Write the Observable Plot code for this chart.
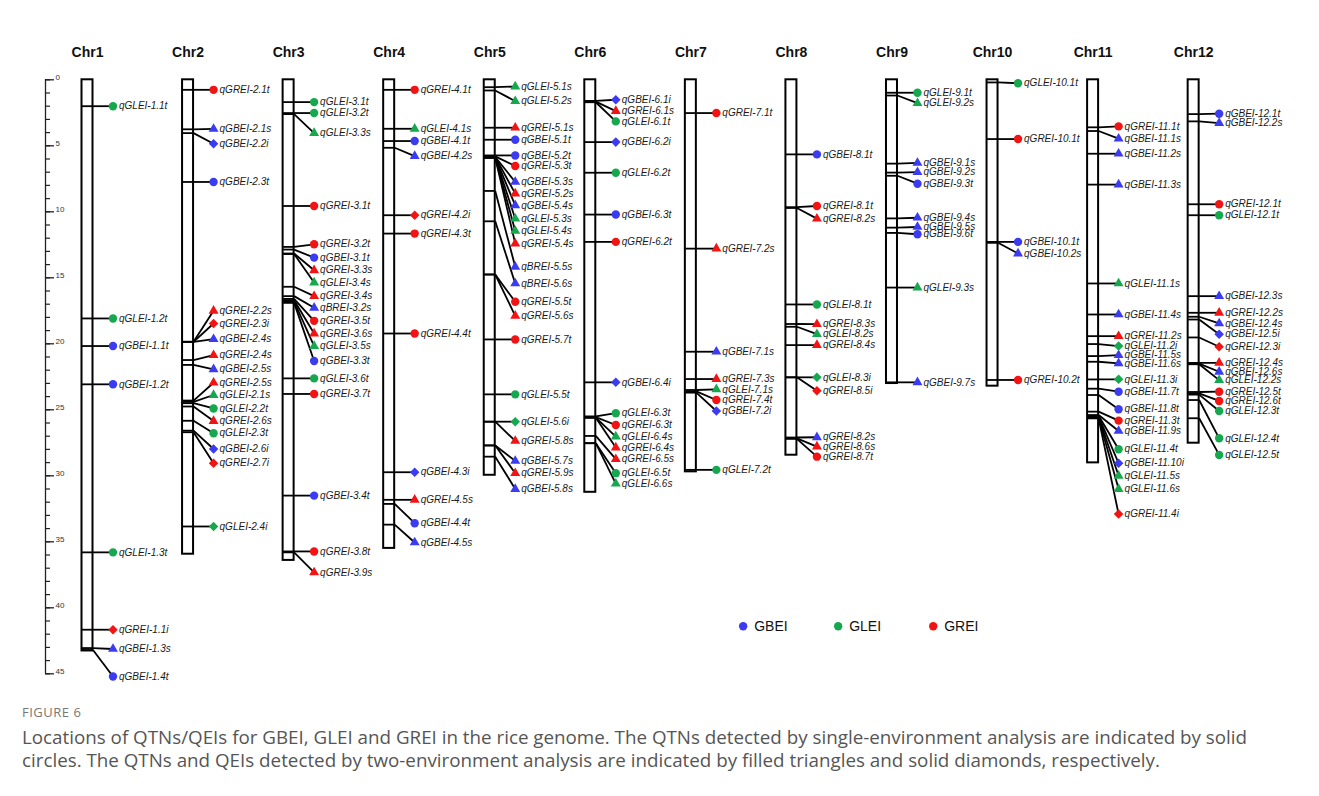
<!DOCTYPE html>
<html><head><meta charset="utf-8">
<script src="https://cdn.jsdelivr.net/npm/d3@7"></script>
<script src="https://cdn.jsdelivr.net/npm/@observablehq/plot@0.6"></script>
<style>
body{margin:0;background:#fff;font-family:"Liberation Sans",Arial,sans-serif;}
#topline{position:absolute;left:0;top:8px;width:1319px;border-top:1px solid #e2e2e2}
#chart{position:absolute;left:0;top:0}
#fig{position:absolute;left:22px;top:703px;font-family:"Open Sans",sans-serif;font-size:13px;color:#777;letter-spacing:0.5px}
#cap{position:absolute;left:22px;top:726px;font-family:"Open Sans",sans-serif;font-size:18.8px;line-height:23px;color:#555;white-space:nowrap}
</style></head><body>
<div id="topline"></div>
<div id="chart"></div>
<div id="fig">FIGURE 6</div>
<div id="cap">Locations of QTNs/QEIs for GBEI, GLEI and GREI in the rice genome. The QTNs detected by single-environment analysis are indicated by solid<br>circles. The QTNs and QEIs detected by two-environment analysis are indicated by filled triangles and solid diamonds, respectively.</div>
<script>
// ---- data ----
const chromosomes = ["Chr1","Chr2","Chr3","Chr4","Chr5","Chr6","Chr7","Chr8","Chr9","Chr10","Chr11","Chr12"];
const chrLengths = [43.27,35.94,36.41,35.50,29.96,31.25,29.70,28.44,23.01,23.21,29.02,27.53];
const traits = ["GBEI","GLEI","GREI"];
const traitColors = ["#3b3bf2","#16a84e","#f21414"];
const axisTicks = [0,5,10,15,20,25,30,35,40,45];

// [label, trait, position on chromosome (Mb), label position (Mb)]
const chr1 = [
 ["qGLEI-1.1t","GLEI",2.0,2.0],["qGLEI-1.2t","GLEI",18.08,18.08],["qGBEI-1.1t","GBEI",20.17,20.17],
 ["qGBEI-1.2t","GBEI",23.07,23.07],["qGLEI-1.3t","GLEI",35.8,35.8],["qGREI-1.1i","GREI",41.66,41.66],
 ["qGBEI-1.3s","GBEI",43.05,43.12],["qGBEI-1.4t","GBEI",43.2,45.2]];
const chr2 = [
 ["qGREI-2.1t","GREI",0.76,0.76],["qGBEI-2.1s","GBEI",3.75,3.72],["qGBEI-2.2i","GBEI",4.04,4.84],
 ["qGBEI-2.3t","GBEI",7.74,7.74],["qGREI-2.2s","GREI",19.85,17.5],["qGREI-2.3i","GREI",19.85,18.46],
 ["qGBEI-2.4s","GBEI",19.85,19.65],["qGREI-2.4s","GREI",21.23,20.86],["qGBEI-2.5s","GBEI",21.6,21.93],
 ["qGREI-2.5s","GREI",24.3,22.95],["qGLEI-2.1s","GLEI",24.4,23.88],["qGLEI-2.2t","GLEI",24.5,24.9],
 ["qGREI-2.6s","GREI",24.75,25.85],["qGLEI-2.3t","GLEI",25.83,26.78],["qGBEI-2.6i","GBEI",26.58,27.97],
 ["qGREI-2.7i","GREI",26.7,29.05],["qGLEI-2.4i","GLEI",33.84,33.84]];
const chr3 = [
 ["qGLEI-3.1t","GLEI",1.69,1.69],["qGLEI-3.2t","GLEI",2.52,2.52],["qGLEI-3.3s","GLEI",2.6,4.04],
 ["qGREI-3.1t","GREI",9.56,9.56],["qGREI-3.2t","GREI",12.66,12.46],["qGBEI-3.1t","GBEI",12.86,13.47],
 ["qGREI-3.3s","GREI",13.16,14.43],["qGLEI-3.4s","GLEI",13.2,15.36],["qGREI-3.4s","GREI",15.68,16.39],
 ["qBREI-3.2s","GBEI",16.39,17.27],["qGREI-3.5t","GREI",16.6,18.26],["qGREI-3.6s","GREI",16.7,19.22],
 ["qGLEI-3.5s","GLEI",16.8,20.17],["qGBEI-3.3t","GBEI",16.9,21.3],["qGLEI-3.6t","GLEI",22.62,22.62],
 ["qGREI-3.7t","GREI",23.8,23.8],["qGBEI-3.4t","GBEI",31.5,31.5],["qGREI-3.8t","GREI",35.73,35.73],
 ["qGREI-3.9s","GREI",35.8,37.32]];
const chr4 = [
 ["qGREI-4.1t","GREI",0.76,0.76],["qGLEI-4.1s","GLEI",3.71,3.71],["qGBEI-4.1t","GBEI",4.64,4.64],
 ["qGBEI-4.2s","GBEI",5.15,5.78],["qGREI-4.2i","GREI",10.26,10.26],["qGREI-4.3t","GREI",11.65,11.65],
 ["qGREI-4.4t","GREI",19.22,19.22],["qGBEI-4.3i","GBEI",29.73,29.73],["qGREI-4.5s","GREI",31.82,31.82],
 ["qGBEI-4.4t","GBEI",32.13,33.59],["qGBEI-4.5s","GBEI",33.7,35.05]];
const chr5 = [
 ["qGLEI-5.1s","GLEI",0.56,0.51],["qGLEI-5.2s","GLEI",0.81,1.62],["qGREI-5.1s","GREI",3.63,3.63],
 ["qGBEI-5.1t","GBEI",4.54,4.54],["qGBEI-5.2t","GBEI",5.73,5.73],["qGREI-5.3t","GREI",5.8,6.53],
 ["qGBEI-5.3s","GBEI",5.85,7.74],["qGREI-5.2s","GREI",5.85,8.62],["qGBEI-5.4s","GBEI",5.9,9.51],
 ["qGLEI-5.3s","GLEI",5.9,10.52],["qGLEI-5.4s","GLEI",5.9,11.45],["qGREI-5.4s","GREI",5.9,12.41],
 ["qBREI-5.5s","GBEI",8.42,14.17],["qBREI-5.6s","GBEI",10.72,15.43],["qGREI-5.5t","GREI",14.75,16.82],
 ["qGREI-5.6s","GREI",14.75,17.88],["qGREI-5.7t","GREI",19.67,19.67],["qGLEI-5.5t","GLEI",23.83,23.83],
 ["qGLEI-5.6i","GLEI",25.9,25.9],["qGREI-5.8s","GREI",25.9,27.36],["qGBEI-5.7s","GBEI",27.7,28.87],
 ["qGREI-5.9s","GREI",27.7,29.8],["qGBEI-5.8s","GBEI",28.55,31.0]];
const chr6 = [
 ["qGBEI-6.1i","GBEI",1.6,1.51],["qGREI-6.1s","GREI",1.65,2.37],["qGLEI-6.1t","GLEI",1.7,3.15],
 ["qGBEI-6.2i","GBEI",4.72,4.72],["qGLEI-6.2t","GLEI",7.04,7.04],["qGBEI-6.3t","GBEI",10.21,10.21],
 ["qGREI-6.2t","GREI",12.28,12.28],["qGBEI-6.4i","GBEI",22.92,22.92],["qGLEI-6.3t","GLEI",25.5,25.26],
 ["qGREI-6.3t","GREI",25.55,26.15],["qGLEI-6.4s","GLEI",25.6,27.03],["qGREI-6.4s","GREI",25.6,27.86],
 ["qGREI-6.5s","GREI",26.98,28.74],["qGLEI-6.5t","GLEI",27.53,29.8],["qGLEI-6.6s","GLEI",27.53,30.6]];
const chr7 = [
 ["qGREI-7.1t","GREI",2.52,2.52],["qGREI-7.2s","GREI",12.79,12.79],["qGBEI-7.1s","GBEI",20.6,20.6],
 ["qGREI-7.3s","GREI",22.67,22.67],["qGLEI-7.1s","GLEI",23.5,23.45],["qGREI-7.4t","GREI",23.6,24.26],
 ["qGBEI-7.2i","GBEI",23.7,25.09],["qGLEI-7.2t","GLEI",29.55,29.55]];
const chr8 = [
 ["qGBEI-8.1t","GBEI",5.65,5.65],["qGREI-8.1t","GREI",9.65,9.56],["qGREI-8.2s","GREI",9.71,10.52],
 ["qGLEI-8.1t","GLEI",17.02,17.02],["qGREI-8.3s","GREI",18.5,18.51],["qGLEI-8.2s","GLEI",18.71,19.27],
 ["qGREI-8.4s","GREI",20.1,20.1],["qGLEI-8.3i","GLEI",22.54,22.54],["qGREI-8.5i","GREI",22.54,23.55],
 ["qGREI-8.2s","GBEI",27.1,27.08],["qGREI-8.6s","GREI",27.16,27.79],["qGREI-8.7t","GREI",27.2,28.55]];
const chr9 = [
 ["qGLEI-9.1t","GLEI",0.98,0.98],["qGLEI-9.2s","GLEI",1.19,1.77],["qGBEI-9.1s","GBEI",6.35,6.3],
 ["qGBEI-9.2s","GBEI",7.03,7.0],["qGBEI-9.3t","GBEI",7.27,7.87],["qGBEI-9.4s","GBEI",10.5,10.45],
 ["qGBEI-9.5s","GBEI",11.2,11.15],["qGBEI-9.6t","GBEI",11.6,11.7],["qGLEI-9.3s","GLEI",15.74,15.74],
 ["qGBEI-9.7s","GBEI",22.92,22.92]];
const chr10 = [
 ["qGLEI-10.1t","GLEI",0.2,0.26],["qGREI-10.1t","GREI",4.49,4.49],["qGBEI-10.1t","GBEI",12.28,12.28],
 ["qGBEI-10.2s","GBEI",12.35,13.16],["qGREI-10.2t","GREI",22.74,22.74]];
const chr11 = [
 ["qGREI-11.1t","GREI",3.6,3.53],["qGBEI-11.1s","GBEI",3.88,4.46],["qGBEI-11.2s","GBEI",5.6,5.6],
 ["qGBEI-11.3s","GBEI",7.94,7.94],["qGLEI-11.1s","GLEI",15.43,15.43],["qGBEI-11.4s","GBEI",17.78,17.78],
 ["qGREI-11.2s","GREI",19.42,19.42],["qGLEI-11.2i","GLEI",20.02,20.17],["qGBEI-11.5s","GBEI",20.93,20.86],
 ["qGBEI-11.6s","GBEI",21.36,21.48],["qGLEI-11.3i","GLEI",22.7,22.69],["qGBEI-11.7t","GBEI",23.4,23.63],
 ["qGBEI-11.8t","GBEI",23.88,24.96],["qGREI-11.3t","GREI",25.14,25.82],["qGBEI-11.9s","GBEI",25.4,26.6],
 ["qGLEI-11.4t","GLEI",25.45,27.99],["qGBEI-11.10i","GBEI",25.5,29.05],["qGLEI-11.5s","GLEI",25.55,30.0],
 ["qGLEI-11.6s","GLEI",25.6,31.0],["qGREI-11.4i","GREI",25.65,32.9]];
const chr12 = [
 ["qGBEI-12.1t","GBEI",2.6,2.57],["qGBEI-12.2s","GBEI",3.15,3.28],["qGREI-12.1t","GREI",9.43,9.43],
 ["qGLEI-12.1t","GLEI",10.26,10.26],["qGBEI-12.3s","GBEI",16.39,16.39],["qGREI-12.2s","GREI",17.65,17.65],
 ["qGBEI-12.4s","GBEI",17.95,18.46],["qGBEI-12.5i","GBEI",18.16,19.27],["qGREI-12.3i","GREI",19.52,20.22],
 ["qGREI-12.4s","GREI",21.45,21.44],["qGBEI-12.6s","GBEI",21.5,22.12],["qGLEI-12.2s","GLEI",21.55,22.75],
 ["qGREI-12.5t","GREI",23.65,23.63],["qGREI-12.6t","GREI",23.75,24.33],["qGLEI-12.3t","GLEI",23.85,25.09],
 ["qGLEI-12.4t","GLEI",24.26,27.16],["qGLEI-12.5t","GLEI",25.64,28.42]];
const qtlByChr = [chr1,chr2,chr3,chr4,chr5,chr6,chr7,chr8,chr9,chr10,chr11,chr12];

// ---- layout constants (pixels) ----
const W = 1319, H = 700;
const colPx = 100.56, firstPx = 87;
const yTop = 79.3, yBottom = 673.3;
const hw = 5.5 / colPx, mOff = 25.5 / colPx;
const axisX = (45 - firstPx) / colPx;

const shapeOf = s => ({t:"circle", s:"triangle", i:"diamond2"})[s.slice(-1)];
const chrData = chromosomes.map((name,i) => ({name, i, len: chrLengths[i]}));
const qtls = qtlByChr.flatMap((arr,i) => arr.map(([label,trait,pos,lab]) => ({label,trait,pos,lab,i,shape:shapeOf(label)})));
const legendData = traits.map((t,k) => ({t, k}));

const dotsOf = (shape, r) => Plot.dot(qtls.filter(d => d.shape === shape), {
  x: d => d.i + mOff, y: "lab", fill: "trait", symbol: shape, r, stroke: "none"
});

const plot = Plot.plot({
  width: W, height: H,
  marginTop: 0, marginBottom: 0, marginLeft: 0, marginRight: 0,
  x: {domain: [-firstPx/colPx, (W-firstPx)/colPx], range: [0, W], axis: null},
  y: {domain: [0, 45], range: [yTop, yBottom], axis: null},
  color: {domain: traits, range: traitColors},
  style: {fontFamily: '"Liberation Sans", Arial, sans-serif', background: "white"},
  marks: [
    // left axis
    Plot.ruleX([axisX], {y1: 0, y2: 45, stroke: "#222", strokeWidth: 1.3}),
    Plot.ruleY(d3.range(0, 46), {x1: axisX, x2: axisX + 5/colPx, stroke: "#222", strokeWidth: 1.2}),
    Plot.ruleY(axisTicks, {x1: axisX, x2: axisX + 9/colPx, stroke: "#222", strokeWidth: 1.3}),
    Plot.text(axisTicks, {x: axisX + 10/colPx, y: d => d, text: d => String(d), textAnchor: "start", fontSize: 8, dy: -2, fill: "#333"}),
    // chromosomes
    Plot.rect(chrData, {x1: d => d.i - hw, x2: d => d.i + hw, y1: 0, y2: "len", fill: "white", stroke: "black", strokeWidth: 2}),
    Plot.link(qtls, {x1: d => d.i - hw, x2: d => d.i + hw, y1: "pos", y2: "pos", stroke: "black", strokeWidth: 1.8}),
    Plot.link(qtls, {x1: d => d.i + hw, y1: "pos", x2: d => d.i + mOff, y2: "lab", stroke: "black", strokeWidth: 1.8}),
    dotsOf("circle", 4.2),
    dotsOf("triangle", 3.7),
    dotsOf("diamond2", 4.3),
    Plot.text(qtls, {x: d => d.i + mOff, y: "lab", text: "label", textAnchor: "start", dx: 6, fontSize: 10, fontStyle: "italic", fill: "#1a1a1a"}),
    Plot.text(chrData, {x: "i", frameAnchor: "top", lineAnchor: "middle", text: "name", dy: 52, fontSize: 14, fontWeight: "bold", fill: "#111"}),
    // legend
    Plot.dot(legendData, {x: d => 6.52 + 0.945*d.k, y: 41.4, fill: "t", r: 4.2}),
    Plot.text(legendData, {x: d => 6.52 + 0.945*d.k, y: 41.4, text: "t", dx: 11, textAnchor: "start", fontSize: 14, fill: "#111"})
  ]
});
document.getElementById("chart").appendChild(plot);
</script>
</body></html>
